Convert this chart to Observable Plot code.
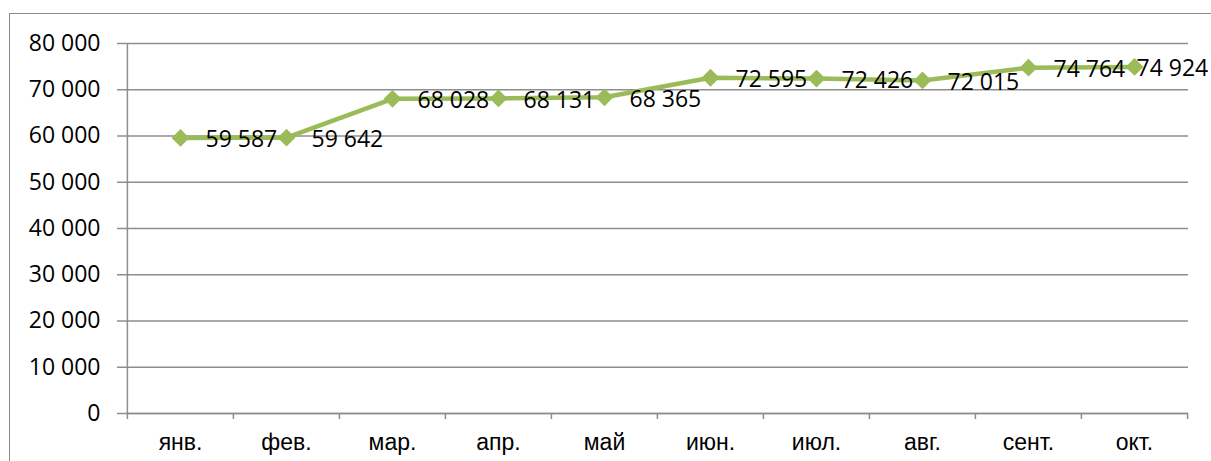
<!DOCTYPE html>
<html>
<head>
<meta charset="utf-8">
<script src="https://cdn.jsdelivr.net/npm/d3@7"></script>
<script src="https://cdn.jsdelivr.net/npm/@observablehq/plot@0.6"></script>
<style>
  html, body { margin: 0; padding: 0; background: #fff; overflow: hidden; }
  #wrap { position: relative; width: 1211px; height: 461px; overflow: hidden; }
  #border { position: absolute; left: 9px; top: 13px; width: 1400px; height: 700px; border: 1.5px solid #8a8a8a; border-right: none; border-bottom: none; box-sizing: border-box; }
  #chart { position: absolute; left: 0; top: 0; }
</style>
</head>
<body>
<div id="wrap"><div id="border"></div><div id="chart"></div></div>
<script>
const months = ["янв.", "фев.", "мар.", "апр.", "май", "июн.", "июл.", "авг.", "сент.", "окт."];
const values = [59587, 59642, 68028, 68131, 68365, 72595, 72426, 72015, 74764, 74924];
const yTicks = [0, 10000, 20000, 30000, 40000, 50000, 60000, 70000, 80000];

const data = months.map((m, i) => ({month: m, value: values[i]}));
const fmt = d3.formatLocale({decimal: ",", thousands: " ", grouping: [3], currency: ["", ""]}).format(",");

const W = 1211, H = 461;
const mL = 126, mR = 23, mT = 43, mB = 48;
const step = (W - mL - mR) / months.length;
const grid = "#8e8e8e";
const numFont = "Open Sans";

const plot = Plot.plot({
  width: W,
  height: H,
  marginLeft: mL,
  marginRight: mR,
  marginTop: mT,
  marginBottom: mB,
  style: {background: "transparent", fontFamily: numFont},
  x: {type: "point", domain: months, padding: 0.5},
  y: {domain: [0, 80000]},
  marks: [
    Plot.gridY(yTicks, {stroke: grid, strokeOpacity: 1, strokeWidth: 1.5}),
    Plot.axisY({ticks: yTicks, tickFormat: fmt, tickSize: 9, tickPadding: 17, stroke: grid, strokeWidth: 1.5, fontSize: 23, fill: "#000", label: null}),
    Plot.ruleX([months[0]], {dx: -step / 2, y1: 0, y2: 80000, stroke: grid, strokeWidth: 1.5}),
    Plot.ruleY([0], {stroke: grid, strokeWidth: 1.5}),
    Plot.axisX({tickSize: 6, tickFormat: () => "", dx: -step / 2, stroke: grid, strokeWidth: 1.5, label: null}),
    Plot.axisX({ticks: [months[months.length - 1]], tickSize: 6, tickFormat: () => "", dx: step / 2, stroke: grid, strokeWidth: 1.5, label: null}),
    Plot.axisX({tickSize: 0, tickPadding: 20, fontSize: 23, fontFamily: "Liberation Sans", fill: "#000", label: null}),
    Plot.line(data, {x: "month", y: "value", stroke: "#9bbb59", strokeWidth: 4.5}),
    Plot.dot(data, {x: "month", y: "value", symbol: "diamond2", r: 8, fill: "#9bbb59", stroke: "none"}),
    Plot.text(data.slice(0, -1), {x: "month", y: "value", text: d => fmt(d.value), textAnchor: "start", dx: 25, dy: 2, fontSize: 23, fill: "#000"}),
    Plot.text(data.slice(-1), {x: "month", y: "value", text: d => fmt(d.value), textAnchor: "start", dx: 2, dy: 2, fontSize: 23, fill: "#000"})
  ]
});
document.getElementById("chart").appendChild(plot);
</script>
</body>
</html>
